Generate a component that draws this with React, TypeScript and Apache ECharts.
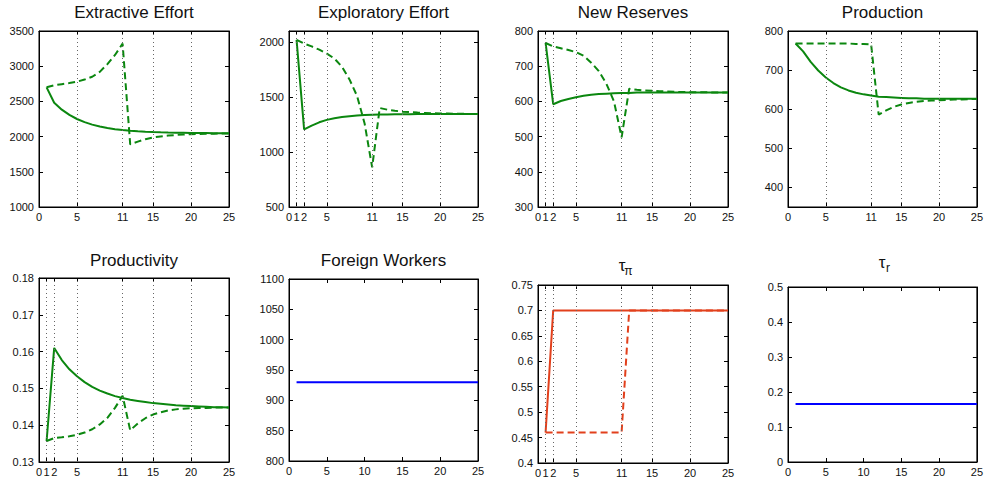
import React, { useEffect, useRef } from "react";
import * as echarts from "echarts";

// ---------- data ----------
const periods = [1, 2, 3, 4, 5, 6, 7, 8, 9, 10, 11, 12, 13, 14, 15, 16, 17, 18, 19, 20, 21, 22, 23, 24, 25];

const extractiveSolid = [2700, 2480, 2383, 2308, 2250, 2205, 2170, 2143, 2122, 2106, 2094, 2084, 2076, 2070, 2065, 2061, 2058, 2056, 2054, 2052, 2051, 2050, 2049, 2048, 2048];
const extractiveDashed = [2700, 2730, 2745, 2760, 2780, 2810, 2850, 2920, 3030, 3160, 3320, 1890, 1928, 1962, 1988, 2003, 2015, 2023, 2030, 2035, 2038, 2040, 2042, 2043, 2044];

const exploratorySolid = [2020, 1205, 1240, 1270, 1292, 1307, 1318, 1326, 1332, 1336, 1339, 1341, 1342, 1343, 1344, 1344, 1345, 1345, 1345, 1345, 1345, 1345, 1345, 1345, 1345];
const exploratoryDashed = [2020, 1985, 1960, 1930, 1895, 1850, 1775, 1660, 1510, 1260, 860, 1400, 1385, 1375, 1367, 1362, 1358, 1355, 1352, 1350, 1349, 1348, 1347, 1346, 1346];

const reservesSolid = [766, 592, 601, 607, 612, 616, 619, 621, 622, 623, 624, 624, 625, 625, 625, 625, 625, 625, 625, 625, 625, 625, 625, 625, 625];
const reservesDashed = [766, 756, 751, 746, 740, 730, 710, 686, 650, 600, 498, 636, 633, 631, 630, 629, 628, 627, 627, 626, 626, 626, 625, 625, 625];

const productionSolid = [768, 748, 721, 699, 681, 667, 656, 648, 642, 638, 635, 632, 631, 630, 629, 628, 628, 627, 627, 627, 627, 627, 627, 627, 627];
const productionDashed = [768, 768, 768, 768, 768, 768, 768, 768, 767, 767, 766, 586, 597, 606, 612, 616, 619, 621, 622, 623, 624, 625, 625, 626, 626];

const productivitySolid = [0.1357, 0.161, 0.1577, 0.1552, 0.1533, 0.1517, 0.1504, 0.1494, 0.1486, 0.1479, 0.1474, 0.1469, 0.1466, 0.1463, 0.146, 0.1458, 0.1456, 0.1454, 0.1453, 0.1452, 0.1451, 0.145, 0.1449, 0.1449, 0.1448];
const productivityDashed = [0.1357, 0.1365, 0.1367, 0.137, 0.1374, 0.138, 0.1389, 0.1402, 0.142, 0.1447, 0.148, 0.1386, 0.1405, 0.1419, 0.1429, 0.1435, 0.144, 0.1443, 0.1445, 0.1446, 0.1447, 0.1447, 0.1448, 0.1448, 0.1448];

const foreignWorkers = [930, 930, 930, 930, 930, 930, 930, 930, 930, 930, 930, 930, 930, 930, 930, 930, 930, 930, 930, 930, 930, 930, 930, 930, 930];

const tauPiSolid = [0.46, 0.7, 0.7, 0.7, 0.7, 0.7, 0.7, 0.7, 0.7, 0.7, 0.7, 0.7, 0.7, 0.7, 0.7, 0.7, 0.7, 0.7, 0.7, 0.7, 0.7, 0.7, 0.7, 0.7, 0.7];
const tauPiDashed = [0.46, 0.46, 0.46, 0.46, 0.46, 0.46, 0.46, 0.46, 0.46, 0.46, 0.46, 0.7, 0.7, 0.7, 0.7, 0.7, 0.7, 0.7, 0.7, 0.7, 0.7, 0.7, 0.7, 0.7, 0.7];

const tauR = [0.166, 0.166, 0.166, 0.166, 0.166, 0.166, 0.166, 0.166, 0.166, 0.166, 0.166, 0.166, 0.166, 0.166, 0.166, 0.166, 0.166, 0.166, 0.166, 0.166, 0.166, 0.166, 0.166, 0.166, 0.166];

// tick labels
const xTicksA = [0, 5, 11, 15, 20, 25];
const xTicksB = [0, 1, 2, 5, 11, 15, 20, 25];
const xTicksC = [0, 5, 10, 15, 20, 25];
const gridLinesA = [5, 11, 15, 20];
const gridLinesB = [1, 2, 5, 11, 15, 20];

const yTicksExtractive = [1000, 1500, 2000, 2500, 3000, 3500];
const yTicksExploratory = [500, 1000, 1500, 2000];
const yTicksReserves = [300, 400, 500, 600, 700, 800];
const yTicksProduction = [400, 500, 600, 700, 800];
const yTicksProductivity = [0.13, 0.14, 0.15, 0.16, 0.17, 0.18];
const yTicksForeign = [800, 850, 900, 950, 1000, 1050, 1100];
const yTicksTauPi = [0.4, 0.45, 0.5, 0.55, 0.6, 0.65, 0.7, 0.75];
const yTicksTauR = [0, 0.1, 0.2, 0.3, 0.4, 0.5];

const titles = ["Extractive Effort", "Exploratory Effort", "New Reserves", "Production", "Productivity", "Foreign Workers", "", ""];

// ---------- styling / layout ----------
const GREEN = "#0b870f";
const RED = "#e2401c";
const BLUE = "#0000ff";
const FONT = "'Liberation Sans', Arial, Helvetica, sans-serif";

type S = { data: number[]; color: string; dashed: boolean };
type Panel = {
  title: string;
  rect: [number, number, number, number];
  yMin: number;
  yMax: number;
  yTicks: number[];
  xTicks: number[];
  vlines: number[];
  series: S[];
};

const panels: Panel[] = [
  { title: titles[0], rect: [39, 31, 190, 176], yMin: 1000, yMax: 3500, yTicks: yTicksExtractive, xTicks: xTicksA, vlines: gridLinesA,
    series: [{ data: extractiveSolid, color: GREEN, dashed: false }, { data: extractiveDashed, color: GREEN, dashed: true }] },
  { title: titles[1], rect: [289, 31, 189, 176], yMin: 500, yMax: 2100, yTicks: yTicksExploratory, xTicks: xTicksB, vlines: gridLinesB,
    series: [{ data: exploratorySolid, color: GREEN, dashed: false }, { data: exploratoryDashed, color: GREEN, dashed: true }] },
  { title: titles[2], rect: [538, 31, 190, 176], yMin: 300, yMax: 800, yTicks: yTicksReserves, xTicks: xTicksB, vlines: gridLinesB,
    series: [{ data: reservesSolid, color: GREEN, dashed: false }, { data: reservesDashed, color: GREEN, dashed: true }] },
  { title: titles[3], rect: [788, 31, 189, 176], yMin: 350, yMax: 800, yTicks: yTicksProduction, xTicks: xTicksA, vlines: gridLinesA,
    series: [{ data: productionSolid, color: GREEN, dashed: false }, { data: productionDashed, color: GREEN, dashed: true }] },
  { title: titles[4], rect: [39, 278, 190, 184], yMin: 0.13, yMax: 0.18, yTicks: yTicksProductivity, xTicks: xTicksB, vlines: gridLinesB,
    series: [{ data: productivitySolid, color: GREEN, dashed: false }, { data: productivityDashed, color: GREEN, dashed: true }] },
  { title: titles[5], rect: [289, 279, 189, 182], yMin: 800, yMax: 1100, yTicks: yTicksForeign, xTicks: xTicksC, vlines: [],
    series: [{ data: foreignWorkers, color: BLUE, dashed: false }] },
  { title: titles[6], rect: [538, 285, 190, 178], yMin: 0.4, yMax: 0.75, yTicks: yTicksTauPi, xTicks: xTicksB, vlines: gridLinesB,
    series: [{ data: tauPiSolid, color: RED, dashed: false }, { data: tauPiDashed, color: RED, dashed: true }] },
  { title: titles[7], rect: [788, 287, 189, 175], yMin: 0, yMax: 0.5, yTicks: yTicksTauR, xTicks: xTicksC, vlines: [],
    series: [{ data: tauR, color: BLUE, dashed: false }] },
];

function buildOption() {
  const grid: any[] = [];
  const xAxis: any[] = [];
  const yAxis: any[] = [];
  const series: any[] = [];
  const graphic: any[] = [];

  const labelStyle = { color: "#111", fontSize: 11, fontFamily: FONT };

  panels.forEach((p, i) => {
    grid.push({
      left: p.rect[0], top: p.rect[1], width: p.rect[2], height: p.rect[3],
      show: true, borderColor: "#000", borderWidth: 1, backgroundColor: "transparent",
    });
    ["bottom", "top"].forEach((pos, k) => {
      xAxis.push({
        type: "value", gridIndex: i, min: 0, max: 25, position: pos,
        axisLine: { show: true, onZero: false, lineStyle: { color: "#000", width: 1 } },
        axisTick: { show: true, inside: true, length: 4, customValues: p.xTicks, lineStyle: { color: "#000", width: 1 } },
        axisLabel: { show: k === 0, customValues: p.xTicks, margin: 4, ...labelStyle, formatter: (v: number) => String(v) },
        splitLine: { show: false },
      });
    });
    ["left", "right"].forEach((pos, k) => {
      yAxis.push({
        type: "value", gridIndex: i, min: p.yMin, max: p.yMax, position: pos,
        axisLine: { show: true, onZero: false, lineStyle: { color: "#000", width: 1 } },
        axisTick: { show: true, inside: true, length: 4, customValues: p.yTicks, lineStyle: { color: "#000", width: 1 } },
        axisLabel: { show: k === 0, customValues: p.yTicks, margin: 5, ...labelStyle, formatter: (v: number) => String(parseFloat(v.toFixed(4))) },
        splitLine: { show: false },
      });
    });

    if (p.vlines.length) {
      series.push({
        type: "line", xAxisIndex: 2 * i, yAxisIndex: 2 * i, data: [], z: 1, silent: true,
        markLine: {
          silent: true, symbol: "none", animation: false,
          label: { show: false },
          lineStyle: { type: [1, 3], color: "#666", width: 1 },
          emphasis: { disabled: true },
          data: p.vlines.map((v) => ({ xAxis: v })),
        },
      });
    }
    p.series.forEach((s) => {
      series.push({
        type: "line", xAxisIndex: 2 * i, yAxisIndex: 2 * i, z: 3,
        data: periods.map((x, k) => [x, s.data[k]]),
        symbol: "none", showSymbol: false, silent: true,
        lineStyle: { color: s.color, width: 2, type: s.dashed ? [7, 4] : "solid" },
        itemStyle: { color: s.color },
      });
    });

    if (p.title) {
      graphic.push({
        type: "text", x: p.rect[0] + p.rect[2] / 2, y: i < 4 ? 4 : 252,
        style: { text: p.title, font: `17px ${FONT}`, fill: "#111", align: "center", verticalAlign: "top" },
      });
    }
  });

  // Greek titles with subscripts
  graphic.push({ type: "text", x: 622, y: 257, style: { text: "τ", font: `17px ${FONT}`, fill: "#111", align: "center", verticalAlign: "top" } });
  graphic.push({ type: "text", x: 628.5, y: 265, style: { text: "π", font: `12px ${FONT}`, fill: "#111", align: "center", verticalAlign: "top" } });
  graphic.push({ type: "text", x: 882, y: 254, style: { text: "τ", font: `17px ${FONT}`, fill: "#111", align: "center", verticalAlign: "top" } });
  graphic.push({ type: "text", x: 888, y: 262, style: { text: "r", font: `12px ${FONT}`, fill: "#111", align: "center", verticalAlign: "top" } });

  return { animation: false, backgroundColor: "#fff", grid, xAxis, yAxis, series, graphic };
}

export default function App() {
  const ref = useRef<HTMLDivElement>(null);
  useEffect(() => {
    if (!ref.current) return;
    const chart = echarts.init(ref.current, undefined, { renderer: "svg" });
    chart.setOption(buildOption() as any);
    return () => chart.dispose();
  }, []);
  return (
    <div
      ref={ref}
      style={{ position: "absolute", left: 0, top: 0, width: 986, height: 482, background: "#fff" }}
    />
  );
}
